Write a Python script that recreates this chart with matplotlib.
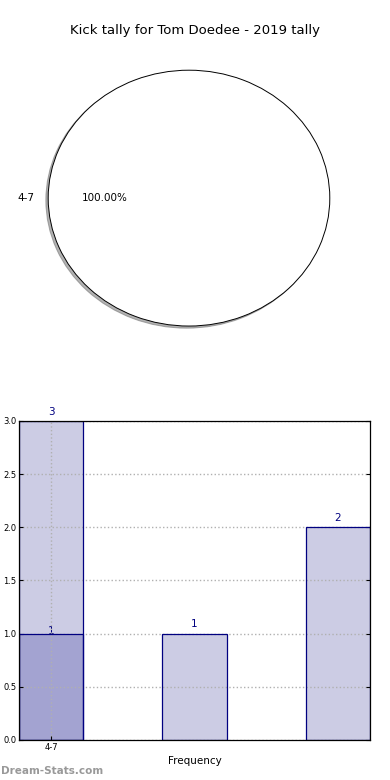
"""
Kick tally chart: pie of kick ranges plus frequency bars
"""

import matplotlib
matplotlib.use("Agg")
import matplotlib.pyplot as plt  # type: ignore

title = "Kick tally for Tom Doedee - 2019 tally"
pie_labels = ["4-7"]
pie_values = [100.0]

bar_pos = [0, 1, 2]
bar_values = [3, 1, 2]
dark_pos = [0]
dark_values = [1]
tick_labels = ["4-7"]

navy = "#000080"
light = "#ccccE4"
dark = "#a3a3d1"

fig = plt.figure(figsize=(3.9, 7.8), dpi=100)

# pie on top
ax1 = fig.add_axes([0.0333, 0.541, 0.9026, 0.41])
ax1.pie(pie_values, labels=pie_labels, autopct="%1.2f%%",
        shadow={"ox": -0.012, "oy": -0.012, "alpha": 0.5, "shade": 0.6},
        colors=["white"], wedgeprops={"edgecolor": "black", "linewidth": 0.7},
        textprops={"fontsize": 7.5})
ax1.set_aspect("auto")
ax1.set_xlim(-1.25, 1.25)
ax1.set_ylim(-1.25, 1.25)
fig.text(0.5, 0.961, title, ha="center", va="center", fontsize=9.5)

# bars below: fills under the grid, outlines over it
ax2 = fig.add_axes([0.0487, 0.0513, 0.9, 0.4090])
ax2.bar(bar_pos, bar_values, width=0.45, color=light, linewidth=0, zorder=1)
ax2.bar(bar_pos, bar_values, width=0.45, fill=False, edgecolor=navy,
        linewidth=0.9, zorder=3)
ax2.bar(dark_pos, dark_values, width=0.45, color=dark, linewidth=0,
        zorder=1.5)
ax2.bar(dark_pos, dark_values, width=0.45, fill=False, edgecolor=navy,
        linewidth=0.9, zorder=3.5)
for x, v in zip(bar_pos, bar_values):
    ax2.text(x, v + 0.04, str(v), ha="center", va="bottom", color=navy,
             fontsize=7.5, zorder=4)
for x, v in zip(dark_pos, dark_values):
    ax2.text(x, v - 0.02, str(v), ha="center", va="bottom", color=navy,
             fontsize=7.5, zorder=1.2)

ax2.set_xlim(-0.225, 2.225)
ax2.set_ylim(0, 3)
ax2.set_xticks(dark_pos)
ax2.set_xticklabels(tick_labels)
ax2.set_yticks([0, 0.5, 1.0, 1.5, 2.0, 2.5, 3.0])
ax2.tick_params(axis="both", labelsize=6, length=3, direction="in",
                right=True, top=False, pad=2)
ax2.set_axisbelow(False)
ax2.grid(True, color="#b0b0b0", linestyle=":", linewidth=1)
for s in ax2.spines.values():
    s.set_linewidth(0.9)
    s.set_zorder(5)
ax2.set_xlabel("Frequency", fontsize=7.5, labelpad=3)

fig.text(0.003, 0.012, "Dream-Stats.com", ha="left", va="center",
         fontsize=7.5, color="#999999", fontweight="bold")

fig.savefig("out.png", dpi=100)
